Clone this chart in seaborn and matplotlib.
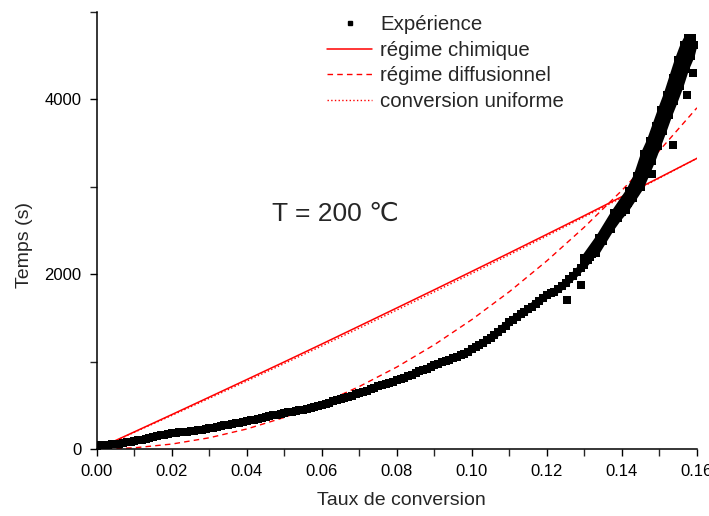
import numpy as np
import pandas as pd
import matplotlib
matplotlib.use("Agg")
import matplotlib.pyplot as plt
from matplotlib.lines import Line2D
from matplotlib.ticker import MultipleLocator
import seaborn as sns

# ---------------- data ----------------
exp_x = [0.0000, 0.0010, 0.0020, 0.0030, 0.0040, 0.0050, 0.0060, 0.0070, 0.0080, 0.0090,
         0.0100, 0.0110, 0.0120, 0.0130, 0.0140, 0.0150, 0.0160, 0.0170, 0.0180, 0.0190,
         0.0200, 0.0210, 0.0220, 0.0230, 0.0240, 0.0250, 0.0260, 0.0270, 0.0280, 0.0290,
         0.0300, 0.0310, 0.0320, 0.0330, 0.0340, 0.0350, 0.0360, 0.0370, 0.0380, 0.0390,
         0.0400, 0.0410, 0.0420, 0.0430, 0.0440, 0.0450, 0.0460, 0.0470, 0.0480, 0.0490,
         0.0500, 0.0510, 0.0520, 0.0530, 0.0540, 0.0550, 0.0560, 0.0570, 0.0580, 0.0590,
         0.0600, 0.0610, 0.0620, 0.0630, 0.0640, 0.0650, 0.0660, 0.0670, 0.0680, 0.0690,
         0.0700, 0.0710, 0.0720, 0.0730, 0.0740, 0.0750, 0.0760, 0.0770, 0.0780, 0.0790,
         0.0800, 0.0810, 0.0820, 0.0830, 0.0840, 0.0850, 0.0860, 0.0870, 0.0880, 0.0890,
         0.0900, 0.0910, 0.0920, 0.0930, 0.0940, 0.0950, 0.0960, 0.0970, 0.0980, 0.0990,
         0.1000, 0.1010, 0.1020, 0.1030, 0.1040, 0.1050, 0.1060, 0.1070, 0.1080, 0.1090,
         0.1100, 0.1110, 0.1120, 0.1130, 0.1140, 0.1150, 0.1160, 0.1170, 0.1180, 0.1190,
         0.1200, 0.1210, 0.1220, 0.1230, 0.1240, 0.1250, 0.1260, 0.1270, 0.1280, 0.1290,
         0.1300, 0.1310, 0.1315, 0.1320, 0.1330, 0.1340, 0.1345, 0.1350, 0.1360, 0.1365,
         0.1370, 0.1380, 0.1385, 0.1390, 0.1400, 0.1405, 0.1410, 0.1415, 0.1420, 0.1425,
         0.1430, 0.1435, 0.1440, 0.1445, 0.1450, 0.1455, 0.1460, 0.1465, 0.1470, 0.1475,
         0.1480, 0.1485, 0.1490, 0.1495, 0.1500, 0.1505, 0.1510, 0.1515, 0.1520, 0.1525,
         0.1530, 0.1535, 0.1540, 0.1545, 0.1550, 0.1555, 0.1560, 0.1565, 0.1570, 0.1575,
         0.1580, 0.1583, 0.1586, 0.1588]
exp_t = [40, 45, 42, 50, 58, 55, 62, 70, 75, 80,
         88, 98, 108, 120, 130, 140, 150, 155, 165, 172,
         180, 178, 190, 198, 195, 205, 210, 220, 215, 230,
         240, 246, 255, 262, 270, 280, 288, 300, 298, 312,
         320, 330, 335, 345, 350, 365, 378, 389, 392, 400,
         410, 418, 425, 432, 445, 450, 462, 470, 478, 490,
         500, 515, 525, 545, 560, 572, 585, 600, 612, 625,
         640, 655, 668, 685, 700, 720, 730, 745, 755, 772,
         785, 800, 815, 830, 850, 870, 888, 900, 920, 940,
         960, 975, 990, 1005, 1020, 1040, 1055, 1074, 1090, 1115,
         1140, 1165, 1190, 1215, 1245, 1270, 1300, 1340, 1375, 1410,
         1450, 1480, 1510, 1540, 1570, 1600, 1630, 1665, 1695, 1730,
         1760, 1780, 1800, 1830, 1860, 1900, 1940, 1980, 2020, 2070,
         2110, 2160, 2200, 2230, 2290, 2350, 2390, 2430, 2500, 2540,
         2570, 2630, 2660, 2680, 2710, 2760, 2790, 2820, 2850, 2890,
         2920, 2960, 3000, 3040, 3070, 3130, 3180, 3240, 3300, 3350,
         3410, 3470, 3530, 3580, 3640, 3700, 3750, 3830, 3900, 3950,
         4000, 4050, 4100, 4170, 4230, 4300, 4370, 4440, 4500, 4560,
         4620, 4660, 4700, 4680]
# right and left edges of the experimental cloud (steep part)
right_x = [0.1330, 0.1350, 0.1370, 0.1390, 0.1410, 0.1430, 0.1450, 0.1465, 0.1480,
           0.1495, 0.1510, 0.1525, 0.1540, 0.1555, 0.1570, 0.1585, 0.1592]
right_t = [2240, 2380, 2520, 2640, 2740, 2870, 3000, 3150, 3300,
           3470, 3640, 3820, 3980, 4150, 4350, 4500, 4620]
left_x = [0.1300, 0.1340, 0.1380, 0.1420, 0.1440, 0.1460, 0.1475, 0.1490, 0.1505,
          0.1520, 0.1535, 0.1550, 0.1565, 0.1575]
left_t = [2180, 2420, 2700, 2950, 3120, 3380, 3520, 3700, 3880,
          4050, 4250, 4450, 4620, 4700]
stray_x = [0.1253, 0.1290, 0.1480, 0.1536, 0.1573, 0.1590]
stray_t = [1700, 1874, 3150, 3474, 4046, 4300]

model_x = [0.00, 0.01, 0.02, 0.03, 0.04, 0.05, 0.06, 0.07, 0.08,
           0.09, 0.10, 0.11, 0.12, 0.13, 0.14, 0.15, 0.16]
chim_t = [0, 197, 395, 595, 796, 998, 1202, 1408, 1615,
          1823, 2033, 2244, 2457, 2671, 2888, 3106, 3326]
diff_t = [0, 14, 57, 129, 230, 362, 523, 716, 939,
          1194, 1482, 1801, 2154, 2540, 2960, 3415, 3904]
unif_t = [0, 192, 385, 581, 779, 979, 1180, 1384, 1591,
          1799, 2010, 2223, 2439, 2657, 2877, 3100, 3326]

xticks = [0.00, 0.02, 0.04, 0.06, 0.08, 0.10, 0.12, 0.14, 0.16]
yticks = [0, 2000, 4000]

# ---------------- style ----------------
sns.set_theme(style="ticks")
plt.rcParams["font.family"] = ["Liberation Sans", "DejaVu Sans"]
plt.rcParams["axes.linewidth"] = 1.1

fig = plt.figure(figsize=(7.09, 5.16), dpi=100)
ax = fig.add_axes([0.1368, 0.1298, 0.8462, 0.8469])

df_exp = pd.DataFrame({"x": exp_x, "t": exp_t})
df_right = pd.DataFrame({"x": right_x, "t": right_t})
df_left = pd.DataFrame({"x": left_x, "t": left_t})
df_stray = pd.DataFrame({"x": stray_x, "t": stray_t})
df_mod = pd.DataFrame({"x": model_x, "chim": chim_t, "diff": diff_t, "unif": unif_t})

red = "#ff0000"
sns.lineplot(data=df_mod, x="x", y="chim", ax=ax, color=red, lw=1.1, linestyle="-")
sns.lineplot(data=df_mod, x="x", y="unif", ax=ax, color=red, lw=1.0, linestyle=":")
sns.lineplot(data=df_mod, x="x", y="diff", ax=ax, color=red, lw=1.0, linestyle=(0, (4, 3)))

for d in (df_exp, df_right, df_left):
    sns.lineplot(data=d, x="x", y="t", ax=ax, color="black", lw=5, sort=False,
                 estimator=None, zorder=3)
    sns.scatterplot(data=d, x="x", y="t", ax=ax, color="black", marker="s", s=34,
                    linewidth=0, zorder=4)
sns.scatterplot(data=df_stray, x="x", y="t", ax=ax, color="black", marker="s", s=28,
                linewidth=0, zorder=4)

ax.set_xlim(0, 0.16)
ax.set_ylim(0, 5000)
ax.set_xticks(xticks)
ax.set_xticklabels([f"{v:.2f}" for v in xticks])
ax.set_yticks(yticks)
ax.set_yticklabels([str(v) for v in yticks])
ax.xaxis.set_minor_locator(MultipleLocator(0.01))
ax.yaxis.set_minor_locator(MultipleLocator(1000))
ax.tick_params(axis="both", which="major", direction="out", length=5, width=1.0,
               labelsize=12, colors="black", pad=6)
ax.tick_params(axis="both", which="minor", direction="out", length=5, width=1.0)
for s in ["top", "right"]:
    ax.spines[s].set_visible(False)
for s in ["left", "bottom"]:
    ax.spines[s].set_color("black")

ax.set_xlabel("Taux de conversion", fontsize=14)
ax.set_ylabel("Temps (s)", fontsize=14)
ax.xaxis.set_label_coords(0.508, -0.098)
ax.yaxis.set_label_coords(-0.107, 0.467)

ax.text(0.0467, 2686, "T = 200 \u2103", fontsize=19, va="center", ha="left",
        family=["Liberation Sans", "DejaVu Sans"])

handles = [
    Line2D([], [], color="black", marker="s", ms=3.5, linestyle="none"),
    Line2D([], [], color=red, lw=1.1, linestyle="-"),
    Line2D([], [], color=red, lw=1.0, linestyle=(0, (4, 3))),
    Line2D([], [], color=red, lw=1.0, linestyle=":"),
]
labels = ["Expérience", "régime chimique", "régime diffusionnel", "conversion uniforme"]
ax.legend(handles, labels, loc="upper left", bbox_to_anchor=(0.37, 1.012),
          frameon=False, fontsize=14.7, handlelength=2.2, handletextpad=0.4,
          labelspacing=0.33, borderaxespad=0)

fig.savefig("out.png", dpi=100)
